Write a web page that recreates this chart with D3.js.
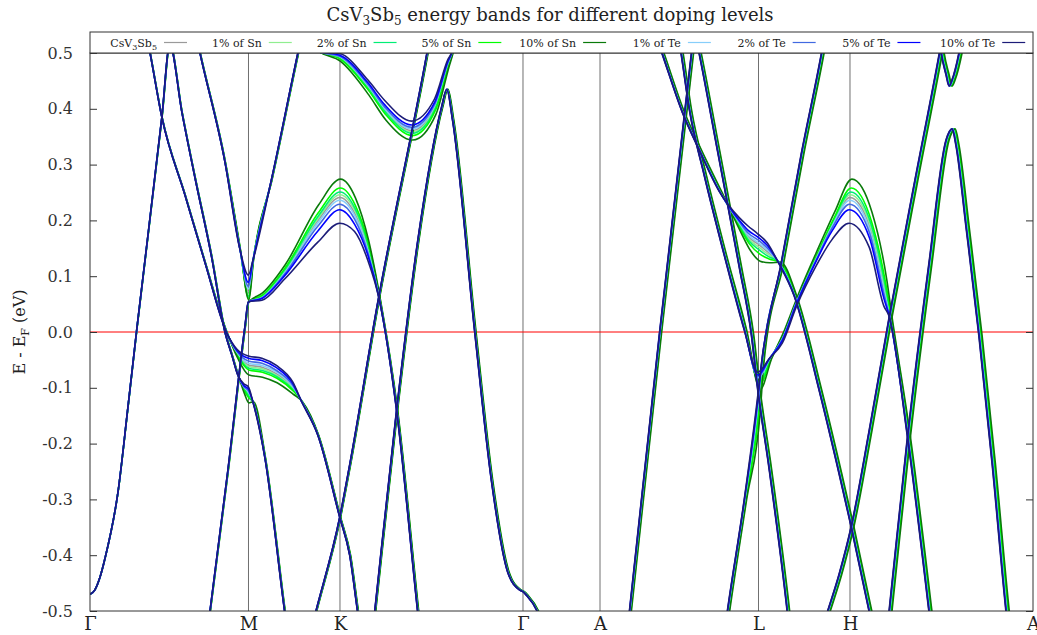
<!DOCTYPE html>
<html>
<head>
<meta charset="utf-8">
<script src="https://cdn.jsdelivr.net/npm/d3@7"></script>
<style>
	body { margin: 0; background: #fff; }
	svg { font-family: "DejaVu Serif", serif; }
</style>
</head>
<body>
<div id="graphicContainer"></div>
<script>

// series in legend order
var seriesNames = ["CsV3Sb5", "1% of Sn", "2% of Sn", "5% of Sn", "10% of Sn", "1% of Te", "2% of Te", "5% of Te", "10% of Te"]
var seriesColors = ["#9a9a9a", "#90ee90", "#00ee76", "#00ff00", "#0a7a0a", "#87cefa", "#4169e1", "#0000ff", "#1c1c78"]
// k-path length of each calculation (slightly different cells)
var pathLength = [3.4354, 3.4337, 3.4320, 3.4299, 3.4268, 3.4364, 3.4375, 3.4385, 3.4395]

var kLabels = ["Γ", "M", "K", "Γ", "A", "L", "H", "A"]
var kTicks = [0, 0.5774, 0.9107, 1.5774, 1.8580, 2.4354, 2.7687, 3.4354]
var yTicks = [-0.5, -0.4, -0.3, -0.2, -0.1, 0.0, 0.1, 0.2, 0.3, 0.4, 0.5]

// energies that differ between series (one value per series)
var peakK = [0.241, 0.246, 0.251, 0.258, 0.274, 0.236, 0.229, 0.219, 0.195]
var mHook = [-0.110, -0.112, -0.114, -0.118, -0.127, -0.107, -0.105, -0.102, -0.098]
var mHookA = [-0.100, -0.101, -0.102, -0.104, -0.110, -0.099, -0.098, -0.096, -0.093]
var fbA = [-0.038, -0.039, -0.040, -0.042, -0.046, -0.037, -0.035, -0.033, -0.031]
var fbM = [-0.059, -0.062, -0.065, -0.068, -0.077, -0.056, -0.052, -0.047, -0.043]
var fb1 = [-0.063, -0.066, -0.069, -0.072, -0.081, -0.060, -0.056, -0.051, -0.047]
var fb2 = [-0.075, -0.078, -0.080, -0.083, -0.091, -0.072, -0.069, -0.064, -0.060]
var fb3 = [-0.100, -0.102, -0.104, -0.106, -0.112, -0.098, -0.096, -0.093, -0.090]
var kp1 = [0.063, 0.064, 0.065, 0.066, 0.070, 0.062, 0.061, 0.060, 0.057]
var kp2 = [0.108, 0.110, 0.112, 0.115, 0.121, 0.106, 0.104, 0.101, 0.095]
var kp3 = [0.200, 0.204, 0.208, 0.214, 0.228, 0.196, 0.190, 0.181, 0.161]
var kp4 = [0.212, 0.217, 0.221, 0.227, 0.240, 0.208, 0.202, 0.193, 0.180]
var kp5 = [0.148, 0.151, 0.154, 0.158, 0.163, 0.145, 0.142, 0.138, 0.129]
var vM = [0.072, 0.067, 0.063, 0.060, 0.057, 0.077, 0.082, 0.089, 0.102]
var wK = [0.492, 0.491, 0.490, 0.489, 0.485, 0.493, 0.494, 0.496, 0.499]
var w1 = [0.440, 0.438, 0.436, 0.433, 0.425, 0.442, 0.444, 0.447, 0.452]
var w2 = [0.398, 0.396, 0.394, 0.390, 0.380, 0.400, 0.403, 0.407, 0.415]
var wMin = [0.361, 0.358, 0.356, 0.352, 0.344, 0.364, 0.367, 0.371, 0.378]
var w3 = [0.405, 0.403, 0.401, 0.398, 0.390, 0.407, 0.409, 0.412, 0.418]
var w4 = [0.480, 0.479, 0.478, 0.477, 0.474, 0.481, 0.482, 0.484, 0.487]
var lb1 = [0.192, 0.189, 0.187, 0.183, 0.176, 0.194, 0.197, 0.200, 0.205]
var lb2 = [0.170, 0.166, 0.162, 0.157, 0.146, 0.173, 0.177, 0.182, 0.190]
var lbL = [0.157, 0.152, 0.147, 0.140, 0.127, 0.160, 0.165, 0.170, 0.176]
var lb3 = [0.143, 0.139, 0.135, 0.131, 0.124, 0.146, 0.150, 0.155, 0.160]
var dipL = [-0.085, -0.088, -0.091, -0.095, -0.103, -0.082, -0.080, -0.077, -0.072]
var pL = [-0.125, -0.127, -0.130, -0.135, -0.145, -0.123, -0.121, -0.118, -0.115]
var r1 = [-0.008, -0.006, -0.004, -0.001, 0.005, -0.010, -0.012, -0.015, -0.020]
var r2 = [0.057, 0.059, 0.061, 0.064, 0.070, 0.055, 0.053, 0.050, 0.045]
var r3 = [0.135, 0.137, 0.139, 0.143, 0.152, 0.133, 0.130, 0.127, 0.118]
var r4 = [0.195, 0.198, 0.201, 0.205, 0.216, 0.192, 0.188, 0.182, 0.166]
var r5 = [0.186, 0.190, 0.194, 0.199, 0.214, 0.182, 0.177, 0.169, 0.152]
var r6 = [0.072, 0.075, 0.078, 0.082, 0.092, 0.068, 0.064, 0.058, 0.046]

// bands as [k, E] points; E is a number (same for all series) or one of the arrays above
var bandGamma = [[0, -0.470], [0.018, -0.462], [0.036, -0.440], [0.055, -0.405], [0.102, -0.287], [0.138, -0.136], [0.171, 0.007], [0.262, 0.385], [0.291, 0.515], [0.335, 0.394], [0.383, 0.276], [0.444, 0.133], [0.492, 0.000], [0.517, -0.041], [0.539, -0.077], [0.561, mHookA], [0.5774, mHook], [0.594, -0.125], [0.638, -0.226], [0.710, -0.502], [0.729, -0.570]]
var bandFlatM = [[0.195, 0.560], [0.219, 0.500], [0.262, 0.385], [0.346, 0.246], [0.419, 0.125], [0.499, -0.002], [0.536, fbA], [0.5774, fbM], [0.627, fb1], [0.680, fb2], [0.740, fb3], [0.772, -0.125], [0.831, -0.185], [0.9107, -0.332], [0.947, -0.400], [0.976, -0.502], [0.991, -0.552]]
var bandPeakK = [[0.419, -0.570], [0.437, -0.502], [0.503, -0.247], [0.565, 0.010], [0.5774, 0.054], [0.627, kp1], [0.710, kp2], [0.831, kp3], [0.9107, peakK], [0.965, kp4], [1.013, kp5], [1.056, 0.056], [1.118, -0.140], [1.195, -0.502], [1.206, -0.552]]
var bandVM = [[0.383, 0.541], [0.401, 0.500], [0.492, 0.305], [0.546, 0.150], [0.5774, vM], [0.594, 0.128], [0.663, 0.276], [0.758, 0.500], [0.776, 0.541]]
var bandW = [[0.750, 0.545], [0.831, 0.503], [0.9107, wK], [1.013, w1], [1.075, w2], [1.173, wMin], [1.257, w3], [1.304, w4], [1.322, 0.505], [1.340, 0.550]]
var bandSK = [[0.797, -0.552], [0.823, -0.502], [0.9107, -0.332], [0.947, -0.238], [1.049, 0.052], [1.228, 0.498], [1.246, 0.547]]
var bandLam = [[1.027, -0.552], [1.038, -0.502], [1.118, -0.140], [1.195, 0.163], [1.282, 0.403], [1.301, 0.435], [1.322, 0.380], [1.403, 0.000], [1.464, -0.267], [1.523, -0.430], [1.566, -0.462], [1.5774, -0.465], [1.592, -0.472], [1.632, -0.502], [1.658, -0.540]]
var bandA1 = [[1.956, -0.552], [1.967, -0.502], [2.077, -0.002], [2.193, 0.498], [2.204, 0.547]]
var bandLflat = [[2.058, 0.539], [2.087, 0.498], [2.160, 0.394], [2.222, 0.326], [2.295, 0.252], [2.368, lb1], [2.400, lb2], [2.4354, lbL], [2.470, lb3], [2.510, 0.125], [2.568, 0.065], [2.659, -0.104], [2.732, -0.254], [2.776, -0.349], [2.842, -0.502], [2.863, -0.552]]
var bandPeakH = [[2.142, 0.541], [2.156, 0.498], [2.186, 0.398], [2.240, 0.281], [2.313, 0.138], [2.386, 0.004], [2.4354, dipL], [2.477, -0.048], [2.525, r1], [2.576, r2], [2.648, r3], [2.707, r4], [2.7687, peakK], [2.842, r5], [2.896, r6], [2.914, 0.029], [2.980, -0.183], [3.060, -0.502], [3.072, -0.552]]
var bandL2 = [[2.204, 0.541], [2.222, 0.498], [2.288, 0.326], [2.368, 0.116], [2.412, -0.005], [2.4354, -0.104], [2.477, -0.246], [2.543, -0.502], [2.554, -0.552]]
var bandL3 = [[2.310, -0.552], [2.324, -0.502], [2.386, -0.301], [2.4354, pL], [2.448, -0.060], [2.521, 0.124], [2.594, 0.319], [2.667, 0.498], [2.685, 0.547]]
var bandH1 = [[2.657, -0.552], [2.689, -0.502], [2.732, -0.434], [2.776, -0.349], [2.842, -0.176], [2.914, 0.025], [3.005, 0.263], [3.097, 0.498], [3.115, 0.547]]
var bandH2 = [[2.903, -0.552], [2.914, -0.502], [2.980, -0.194], [3.060, 0.124], [3.122, 0.344], [3.144, 0.364], [3.158, 0.335], [3.195, 0.188], [3.242, -0.007], [3.290, -0.235], [3.341, -0.502], [3.352, -0.552]]
var bandVA = [[3.093, 0.541], [3.104, 0.500], [3.122, 0.461], [3.133, 0.441], [3.144, 0.452], [3.169, 0.500], [3.184, 0.541]]

var bands = [bandGamma, bandFlatM, bandPeakK, bandVM, bandW, bandSK, bandLam, bandA1, bandLflat, bandPeakH, bandL2, bandL3, bandH1, bandH2, bandVA]

function init() {
	var width = 1037
	var height = 635
	var margin = {top: 53, right: 4, bottom: 24, left: 90}
	var w = width - margin.left - margin.right
	var h = height - margin.top - margin.bottom

	var svg = d3.select("#graphicContainer").append("svg")
		.attr("width", width)
		.attr("height", height)

	var x = d3.scaleLinear().domain([0, kTicks[kTicks.length - 1]]).range([0, w])
	var y = d3.scaleLinear().domain([-0.5, 0.5]).range([h, 0])

	svg.append("defs").append("clipPath").attr("id", "plotClip")
		.append("rect").attr("width", w).attr("height", h)

	// title
	var title = svg.append("text")
		.attr("x", 550).attr("y", 21)
		.attr("text-anchor", "middle")
		.style("font-size", "18px")
		.attr("fill", "#222")
	title.append("tspan").text("CsV")
	title.append("tspan").attr("dy", 4).style("font-size", "12px").text("3")
	title.append("tspan").attr("dy", -4).text("Sb")
	title.append("tspan").attr("dy", 4).style("font-size", "12px").text("5")
	title.append("tspan").attr("dy", -4).text(" energy bands for different doping levels")

	var features = svg.append("g").attr("transform", "translate(" + margin.left + "," + margin.top + ")")

	// high-symmetry lines
	features.selectAll(".kline")
		.data(kTicks.slice(1, kTicks.length - 1))
		.enter().append("line")
		.attr("class", "kline")
		.attr("x1", function(d) { return x(d) })
		.attr("x2", function(d) { return x(d) })
		.attr("y1", 0).attr("y2", h)
		.attr("stroke", "#707070")
		.attr("stroke-width", 1)

	// Fermi level
	features.append("line")
		.attr("x1", 0).attr("x2", w)
		.attr("y1", y(0)).attr("y2", y(0))
		.attr("stroke", "#ff0000")
		.attr("stroke-width", 1)

	var bandsG = features.append("g").attr("clip-path", "url(#plotClip)")

	seriesNames.forEach(function(name, s) {
		var xs = d3.scaleLinear().domain([0, pathLength[s]]).range([0, w])
		var line = d3.line()
			.x(function(d) { return xs(d[0]) })
			.y(function(d) { return y(Array.isArray(d[1]) ? d[1][s] : d[1]) })
			.curve(d3.curveMonotoneX)
		bandsG.selectAll(".band" + s)
			.data(bands)
			.enter().append("path")
			.attr("class", "band" + s)
			.attr("d", line)
			.attr("fill", "none")
			.attr("stroke", seriesColors[s])
			.attr("stroke-width", 1.6)
	})

	// frame
	features.append("rect")
		.attr("width", w).attr("height", h)
		.attr("fill", "none")
		.attr("stroke", "#333")
		.attr("stroke-width", 1)

	// y ticks, inward on both sides
	var yAxis = d3.axisLeft(y).tickValues(yTicks).tickSize(-7).tickPadding(17)
		.tickFormat(function(d) { return d3.format(".1f")(d).replace("−", "-") })
	var yg = features.append("g").call(yAxis)
	yg.select(".domain").remove()
	yg.selectAll("line").attr("stroke", "#333")
	yg.selectAll("text").style("font-size", "16px").attr("fill", "#333").attr("font-family", "DejaVu Serif")

	var yRight = features.append("g").attr("transform", "translate(" + w + ",0)")
		.call(d3.axisRight(y).tickValues(yTicks).tickSize(-7).tickFormat(""))
	yRight.select(".domain").remove()
	yRight.selectAll("line").attr("stroke", "#333")

	// k labels
	var xg = features.append("g").attr("transform", "translate(0," + h + ")")
		.call(d3.axisBottom(x).tickValues(kTicks).tickSize(0).tickPadding(6)
			.tickFormat(function(d, i) { return kLabels[i] }))
	xg.select(".domain").remove()
	xg.selectAll("text").style("font-size", "18px").attr("fill", "#222").attr("font-family", "DejaVu Serif")

	// y label
	var yl = svg.append("text")
		.attr("transform", "translate(25," + (margin.top + y(0)) + ") rotate(-90)")
		.attr("text-anchor", "middle")
		.style("font-size", "16px")
		.attr("fill", "#222")
	yl.append("tspan").text("E - E")
	yl.append("tspan").attr("dy", 4).style("font-size", "11px").text("F")
	yl.append("tspan").attr("dy", -4).text(" (eV)")

	// legend row above plot
	var legend = svg.append("g").attr("transform", "translate(" + margin.left + ",32)")
	legend.append("rect")
		.attr("width", w).attr("height", margin.top - 32)
		.attr("fill", "#fff").attr("stroke", "#333").attr("stroke-width", 1)
	var colW = w / seriesNames.length
	seriesNames.forEach(function(name, s) {
		var cx = s * colW
		var t = legend.append("text")
			.attr("x", cx + 67).attr("y", 14.5)
			.attr("text-anchor", "end")
			.style("font-size", "11px")
			.attr("fill", "#222")
		if (s == 0) {
			t.append("tspan").text("CsV")
			t.append("tspan").attr("dy", 3).style("font-size", "8px").text("3")
			t.append("tspan").attr("dy", -3).text("Sb")
			t.append("tspan").attr("dy", 3).style("font-size", "8px").text("5")
		}
		else {
			t.text(name)
		}
		legend.append("line")
			.attr("x1", cx + 74).attr("x2", cx + 97)
			.attr("y1", 10.5).attr("y2", 10.5)
			.attr("stroke", seriesColors[s])
			.attr("stroke-width", 1.2)
	})
}

init()
</script>
</body>
</html>
